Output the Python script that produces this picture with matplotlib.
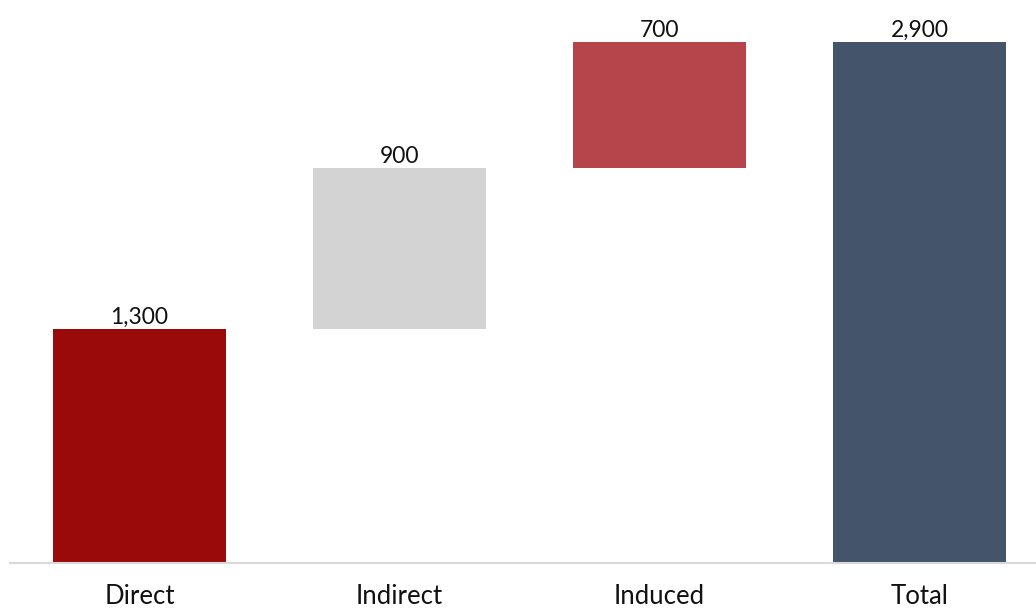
import matplotlib.pyplot as plt
import numpy as np

categories = ['Direct', 'Indirect', 'Induced', 'Total']
values = [1300, 900, 700, 2900]
is_total = [False, False, False, True]
colors = ['#9B0A0A', '#D3D3D3', '#B5444B', '#44546A']

# running bottoms for the waterfall steps; totals start from zero
bottoms = []
running = 0
for v, tot in zip(values, is_total):
    if tot:
        bottoms.append(0)
    else:
        bottoms.append(running)
        running += v

fig = plt.figure(figsize=(10.36, 6.1), dpi=100)
ax = fig.add_axes([10 / 1036, 47 / 610, 1026 / 1036, 557 / 610])

ind = np.arange(len(categories))
ax.bar(ind, values, 0.665, bottom=bottoms, color=colors, zorder=2)

for i, (v, b) in enumerate(zip(values, bottoms)):
    ax.text(i, b + v + 6, f'{v:,}', ha='center', va='bottom',
            fontsize=16.5, family='Lato', color='#111111')

ax.set_xlim(-0.498, 3.448)
ax.set_ylim(0, 3100)

for side in ['top', 'right', 'left']:
    ax.spines[side].set_visible(False)
ax.spines['bottom'].set_color('#D9D9D9')
ax.spines['bottom'].set_linewidth(1.5)

ax.set_yticks([])
ax.set_xticks(ind)
ax.set_xticklabels(categories, fontsize=18.5, family='Lato', color='#111111')
ax.tick_params(axis='x', length=0, pad=15)

fig.savefig('out.png', dpi=100)
